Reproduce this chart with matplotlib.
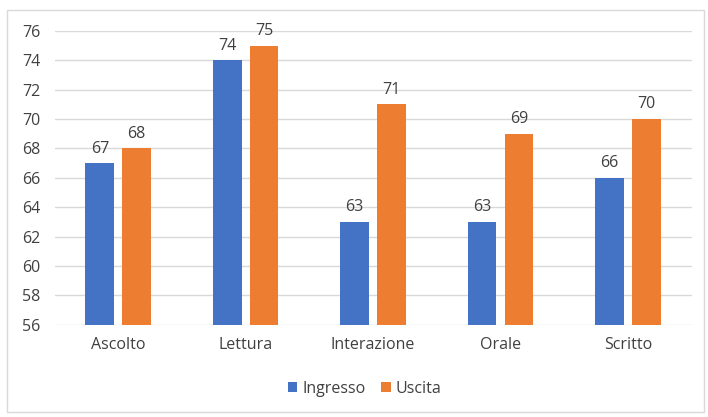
import matplotlib
matplotlib.use("Agg")
import matplotlib.pyplot as plt
import numpy as np
from matplotlib.patches import Rectangle

categories = ["Ascolto", "Lettura", "Interazione", "Orale", "Scritto"]
ingresso = [67, 74, 63, 63, 66]
uscita = [68, 75, 71, 69, 70]
yticks = [56, 58, 60, 62, 64, 66, 68, 70, 72, 74, 76]

plt.rcParams['font.family'] = ['Open Sans', 'DejaVu Sans']
fig = plt.figure(figsize=(7.08, 4.17), dpi=100)
ax = fig.add_axes([0.077, 0.221, 0.900, 0.705])

x = np.arange(len(categories))
w = 0.225
off = 0.145
blue = "#4472C4"
orange = "#ED7D31"
fs = 11.5
b1 = ax.bar(x - off, ingresso, w, color=blue, label="Ingresso", zorder=3)
b2 = ax.bar(x + off, uscita, w, color=orange, label="Uscita", zorder=3)
for bars, vals in ((b1, ingresso), (b2, uscita)):
    for r, v in zip(bars, vals):
        ax.text(r.get_x() + r.get_width() / 2, v + 0.45, str(v), ha="center",
                va="bottom", fontsize=fs, color="#404040")

ax.set_ylim(56, 76)
ax.set_xlim(-0.5, len(categories) - 0.5)
ax.set_yticks(yticks)
ax.set_xticks(x)
ax.set_xticklabels(categories)
ax.tick_params(axis="both", length=0, labelsize=fs, labelcolor="#404040")
ax.tick_params(axis="x", pad=9)
ax.tick_params(axis="y", pad=10)
ax.grid(axis="y", color="#D9D9D9", linewidth=1, zorder=0)
for s in ax.spines.values():
    s.set_visible(False)

leg = fig.legend(handles=[b1, b2], labels=["Ingresso", "Uscita"], loc="center",
                 bbox_to_anchor=(0.515, 0.068), ncol=2, frameon=False, fontsize=fs,
                 handlelength=0.6, handleheight=0.6, handletextpad=0.3, columnspacing=1.0)
for t in leg.get_texts():
    t.set_color("#404040")

fig.patches.append(Rectangle((0.01, 0.012), 0.985, 0.965, transform=fig.transFigure,
                             fill=False, edgecolor="#D9D9D9", linewidth=1))
fig.savefig("out.png", dpi=100, facecolor="white")
